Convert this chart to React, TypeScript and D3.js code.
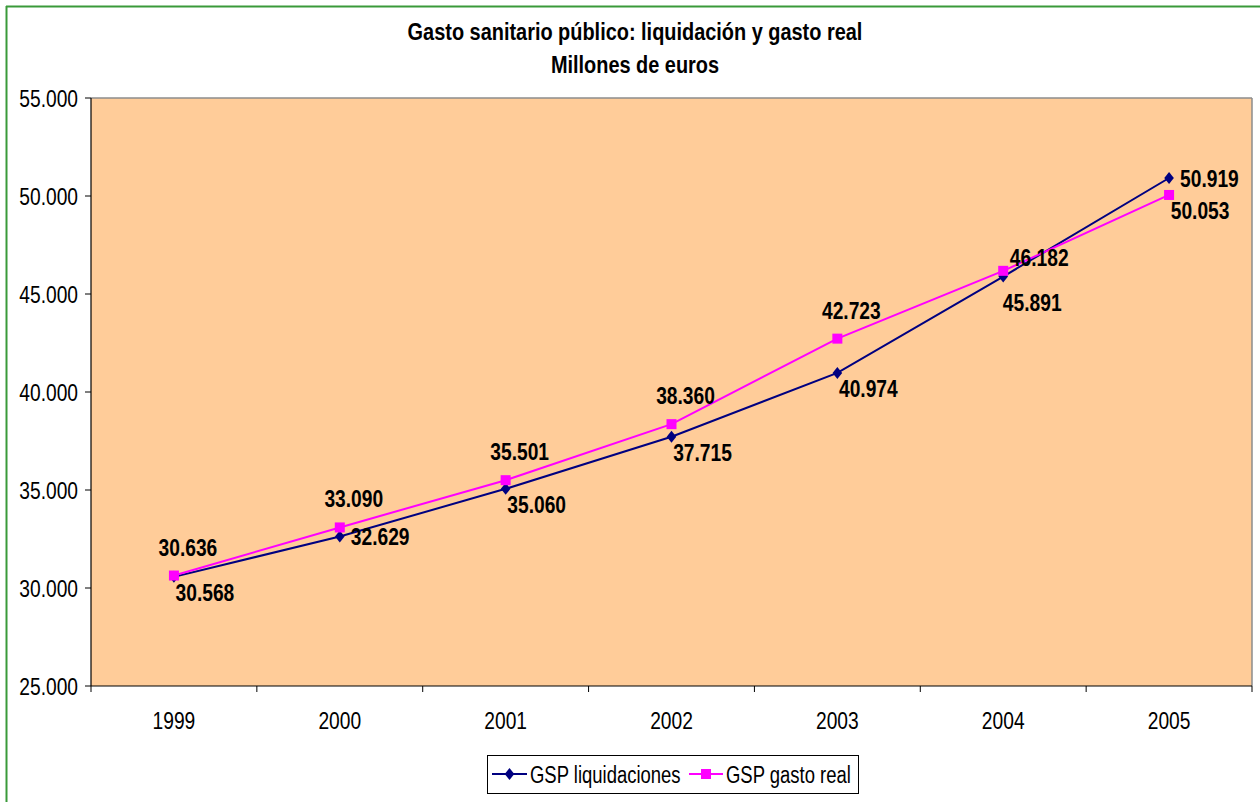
import React from "react";
import * as d3 from "d3";

const years = ["1999", "2000", "2001", "2002", "2003", "2004", "2005"];
const liquidaciones = [30568, 32629, 35060, 37715, 40974, 45891, 50919];
const gastoReal = [30636, 33090, 35501, 38360, 42723, 46182, 50053];
const yTicks = [25000, 30000, 35000, 40000, 45000, 50000, 55000];
// label placement per point
const liqLabelPos = ["belowRight", "right", "belowRight", "belowRight", "belowRight", "below", "right"];
const realLabelPos = ["above", "above", "above", "above", "above", "aboveRight", "belowRight"];

const W = 1260;
const H = 802;
const M = { left: 91, right: 1252, top: 98, bottom: 686 };
const NAVY = "#000080";
const MAGENTA = "#FF00FF";
const FONT = "'Liberation Sans', Arial, sans-serif";

const fmt = (v: number) => d3.format(",")(v).replace(/,/g, ".");

function CText({ x, y, children, size = 24, sx = 0.8, weight = "normal", anchor = "start" }: any) {
  return (
    <text
      transform={`translate(${x},${y}) scale(${sx},1)`}
      fontFamily={FONT}
      fontSize={size}
      fontWeight={weight}
      textAnchor={anchor}
      fill="#000"
    >
      {children}
    </text>
  );
}

function labelOffset(pos: string): [number, number, string] {
  switch (pos) {
    case "right":
      return [11, 9, "start"];
    case "belowRight":
      return [31, 24, "middle"];
    case "below":
      return [29, 34, "middle"];
    case "above":
      return [14, -20, "middle"];
    case "aboveRight":
      return [36, -5, "middle"];
    default:
      return [0, 0, "start"];
  }
}

export default function App() {
  const x = d3.scaleBand<string>().domain(years).range([M.left, M.right]);
  const y = d3.scaleLinear().domain([25000, 55000]).range([M.bottom, M.top]);
  const cx = (yr: string) => (x(yr) as number) + x.bandwidth() / 2;
  const line = d3
    .line<number>()
    .x((_, i) => cx(years[i]))
    .y((d) => y(d));

  const diamond = (px: number, py: number, s = 6) =>
    `M${px},${py - s}L${px + s * 0.8},${py}L${px},${py + s}L${px - s * 0.8},${py}Z`;

  return (
    <svg
      width={W}
      height={H}
      style={{ position: "absolute", left: 0, top: 0, background: "#fff" }}
    >
      {/* outer frame */}
      <line x1={6.5} y1={6} x2={6.5} y2={H} stroke="#3a9a3a" strokeWidth={2} />
      <line x1={6} y1={6.5} x2={W} y2={6.5} stroke="#3a9a3a" strokeWidth={2} />

      {/* title */}
      <CText x={635} y={40} size={24} sx={0.83} weight="bold" anchor="middle">
        Gasto sanitario público: liquidación y gasto real
      </CText>
      <CText x={635} y={73} size={24} sx={0.83} weight="bold" anchor="middle">
        Millones de euros
      </CText>

      {/* plot area */}
      <rect
        x={M.left}
        y={M.top}
        width={M.right - M.left}
        height={M.bottom - M.top}
        fill="#FFCC99"
      />
      <line x1={M.left} y1={M.top} x2={M.right} y2={M.top} stroke="#8c8c8c" strokeWidth={1.5} />
      <line x1={M.right} y1={M.top} x2={M.right} y2={M.bottom} stroke="#8c8c8c" strokeWidth={1.5} />
      <line x1={M.left} y1={M.top} x2={M.left} y2={M.bottom} stroke="#000" strokeWidth={1.2} />
      <line x1={M.left} y1={M.bottom} x2={M.right} y2={M.bottom} stroke="#000" strokeWidth={1.2} />

      {/* y ticks */}
      {yTicks.map((t) => (
        <g key={t}>
          <line x1={M.left - 6} x2={M.left} y1={y(t)} y2={y(t)} stroke="#000" />
          <CText x={M.left - 13} y={y(t) + 9} anchor="end">
            {fmt(t)}
          </CText>
        </g>
      ))}

      {/* x ticks */}
      {[...years, null].map((yr, i) => {
        const px = yr ? (x(yr) as number) : M.right;
        return <line key={i} x1={px} x2={px} y1={M.bottom} y2={M.bottom + 6} stroke="#000" />;
      })}
      {years.map((yr) => (
        <CText key={yr} x={cx(yr)} y={729} anchor="middle">
          {yr}
        </CText>
      ))}

      {/* lines */}
      <path d={line(liquidaciones) || ""} fill="none" stroke={NAVY} strokeWidth={2} />
      <path d={line(gastoReal) || ""} fill="none" stroke={MAGENTA} strokeWidth={2} />
      {liquidaciones.map((v, i) => (
        <path key={"d" + i} d={diamond(cx(years[i]), y(v))} fill={NAVY} />
      ))}
      {gastoReal.map((v, i) => (
        <rect key={"s" + i} x={cx(years[i]) - 5} y={y(v) - 5} width={10} height={10} fill={MAGENTA} />
      ))}

      {/* data labels */}
      {liquidaciones.map((v, i) => {
        const [dx, dy, a] = labelOffset(liqLabelPos[i]);
        return (
          <CText key={"ld" + i} x={cx(years[i]) + dx} y={y(v) + dy} weight="bold" anchor={a}>
            {fmt(v)}
          </CText>
        );
      })}
      {gastoReal.map((v, i) => {
        const [dx, dy, a] = labelOffset(realLabelPos[i]);
        return (
          <CText key={"lr" + i} x={cx(years[i]) + dx} y={y(v) + dy} weight="bold" anchor={a}>
            {fmt(v)}
          </CText>
        );
      })}

      {/* legend */}
      <rect x={487.5} y={755.5} width={371} height={38} fill="#fff" stroke="#000" strokeWidth={1} />
      <line x1={492} x2={527} y1={774} y2={774} stroke={NAVY} strokeWidth={2} />
      <path d={diamond(509.5, 774, 6)} fill={NAVY} />
      <CText x={530} y={783} sx={0.77}>GSP liquidaciones</CText>
      <line x1={689} x2={723} y1={774} y2={774} stroke={MAGENTA} strokeWidth={2} />
      <rect x={701} y={769} width={10} height={10} fill={MAGENTA} />
      <CText x={726} y={783} sx={0.77}>GSP gasto real</CText>
    </svg>
  );
}
